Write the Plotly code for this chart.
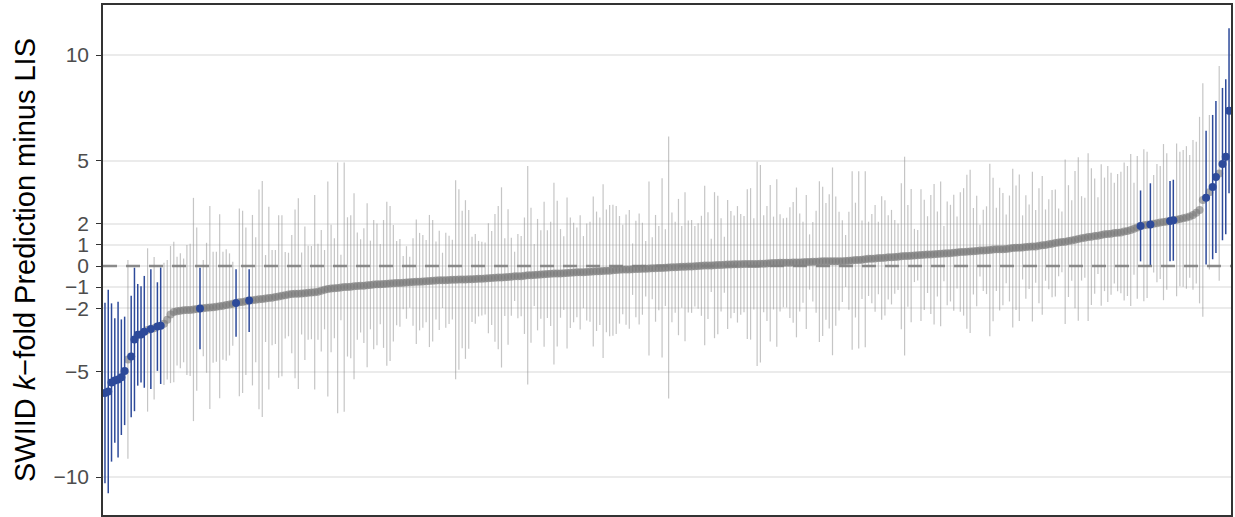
import plotly.graph_objects as go

# Sorted SWIID k-fold prediction minus LIS (one value per observation)
diff = [
    -6.02, -5.95, -5.52, -5.43, -5.38, -5.27, -4.97, -4.43, -4.29, -3.48,
    -3.26, -3.24, -3.12, -3.03, -2.99, -2.95, -2.87, -2.83, -2.74, -2.55,
    -2.30, -2.18, -2.14, -2.12, -2.10, -2.09, -2.08, -2.06, -2.04, -2.01,
    -2.00, -1.98, -1.97, -1.95, -1.93, -1.91, -1.88, -1.85, -1.82, -1.79,
    -1.75, -1.72, -1.70, -1.67, -1.64, -1.62, -1.60, -1.58, -1.56, -1.54,
    -1.52, -1.50, -1.47, -1.44, -1.41, -1.38, -1.35, -1.33, -1.32, -1.31,
    -1.30, -1.29, -1.27, -1.26, -1.24, -1.22, -1.17, -1.12, -1.09, -1.07,
    -1.05, -1.04, -1.02, -1.00, -0.99, -0.98, -0.96, -0.95, -0.94, -0.93,
    -0.91, -0.90, -0.88, -0.87, -0.86, -0.85, -0.84, -0.83, -0.82, -0.81,
    -0.80, -0.79, -0.78, -0.77, -0.76, -0.75, -0.74, -0.73, -0.72, -0.71,
    -0.70, -0.69, -0.68, -0.68, -0.67, -0.66, -0.65, -0.65, -0.64, -0.64,
    -0.64, -0.63, -0.63, -0.61, -0.60, -0.60, -0.59, -0.58, -0.57, -0.56,
    -0.55, -0.54, -0.53, -0.52, -0.51, -0.49, -0.48, -0.48, -0.46, -0.44,
    -0.44, -0.43, -0.41, -0.40, -0.39, -0.38, -0.37, -0.36, -0.36, -0.35,
    -0.34, -0.33, -0.32, -0.31, -0.30, -0.30, -0.29, -0.28, -0.27, -0.26,
    -0.25, -0.25, -0.24, -0.23, -0.22, -0.20, -0.19, -0.18, -0.17, -0.17,
    -0.16, -0.15, -0.14, -0.14, -0.13, -0.13, -0.12, -0.11, -0.11, -0.10,
    -0.09, -0.08, -0.07, -0.06, -0.06, -0.05, -0.04, -0.03, -0.02, -0.02,
    -0.01, 0.00, 0.01, 0.02, 0.02, 0.03, 0.04, 0.05, 0.05, 0.06,
    0.07, 0.07, 0.08, 0.08, 0.08, 0.09, 0.09, 0.10, 0.10, 0.10,
    0.11, 0.11, 0.12, 0.13, 0.14, 0.14, 0.15, 0.15, 0.16, 0.16,
    0.17, 0.17, 0.17, 0.18, 0.19, 0.19, 0.20, 0.20, 0.21, 0.22,
    0.22, 0.22, 0.22, 0.23, 0.23, 0.23, 0.24, 0.25, 0.26, 0.28,
    0.29, 0.30, 0.32, 0.34, 0.35, 0.36, 0.38, 0.38, 0.39, 0.41,
    0.42, 0.43, 0.44, 0.46, 0.47, 0.48, 0.49, 0.50, 0.51, 0.52,
    0.53, 0.54, 0.55, 0.56, 0.57, 0.58, 0.59, 0.60, 0.61, 0.63,
    0.64, 0.66, 0.67, 0.68, 0.69, 0.70, 0.71, 0.73, 0.74, 0.75,
    0.76, 0.78, 0.79, 0.80, 0.80, 0.81, 0.83, 0.85, 0.86, 0.87,
    0.88, 0.90, 0.91, 0.92, 0.93, 0.96, 0.98, 0.99, 1.03, 1.06,
    1.09, 1.12, 1.14, 1.15, 1.18, 1.21, 1.25, 1.28, 1.31, 1.34,
    1.37, 1.39, 1.42, 1.44, 1.47, 1.50, 1.52, 1.53, 1.56, 1.58,
    1.59, 1.63, 1.66, 1.71, 1.77, 1.83, 1.90, 1.93, 1.95, 1.97,
    2.00, 2.03, 2.06, 2.08, 2.11, 2.13, 2.17, 2.19, 2.23, 2.26,
    2.30, 2.35, 2.42, 2.53, 2.65, 3.13, 3.24, 3.50, 3.74, 4.22,
    4.39, 4.83, 5.18, 7.36,
]

# Half-width of each 95% interval
half = [
    4.28, 4.82, 3.75, 2.95, 3.69, 2.74, 2.57, 4.71, 2.88, 3.40,
    2.41, 2.28, 2.65, 3.87, 2.84, 3.38, 2.10, 2.76, 2.90, 2.83,
    3.25, 3.33, 2.58, 2.72, 2.46, 3.08, 3.13, 5.29, 3.87, 1.93,
    2.28, 3.08, 4.81, 2.63, 2.61, 4.36, 2.56, 2.64, 2.42, 1.99,
    1.60, 4.45, 4.32, 3.50, 1.49, 4.04, 2.96, 5.21, 5.59, 2.06,
    4.33, 2.26, 2.23, 3.85, 3.82, 2.05, 1.98, 2.80, 4.00, 4.52,
    1.94, 3.16, 2.23, 2.21, 4.61, 2.27, 2.88, 1.88, 5.09, 3.02,
    2.37, 5.94, 1.55, 5.91, 3.30, 3.39, 4.41, 2.54, 2.21, 2.72,
    3.89, 2.10, 3.06, 2.89, 1.90, 3.03, 3.89, 3.67, 2.76, 2.00,
    2.08, 1.26, 1.72, 1.21, 2.07, 2.95, 2.31, 2.20, 1.95, 3.13,
    2.88, 1.85, 2.35, 1.31, 2.25, 2.09, 1.89, 4.72, 4.28, 3.26,
    3.76, 3.29, 2.02, 2.13, 1.79, 1.75, 1.71, 2.61, 2.23, 3.03,
    3.40, 4.27, 1.84, 3.21, 1.85, 1.17, 2.00, 1.90, 2.76, 5.18,
    3.20, 1.47, 2.64, 2.10, 3.44, 2.08, 2.47, 4.31, 3.45, 2.10,
    1.75, 3.58, 2.62, 2.36, 2.13, 2.71, 1.71, 2.30, 2.37, 3.55,
    2.83, 2.55, 4.12, 2.91, 3.11, 3.10, 3.03, 2.55, 2.12, 2.61,
    2.81, 1.22, 2.29, 2.63, 2.18, 1.31, 4.12, 1.47, 2.53, 2.00,
    4.25, 1.82, 6.21, 2.60, 2.16, 3.23, 1.94, 3.53, 2.18, 2.20,
    1.91, 2.03, 2.37, 3.78, 2.53, 1.26, 3.46, 3.28, 2.21, 1.33,
    3.06, 2.54, 2.31, 2.76, 2.39, 2.28, 3.55, 3.59, 2.16, 4.84,
    4.68, 2.30, 2.73, 3.71, 2.20, 3.97, 2.30, 2.11, 2.13, 2.62,
    2.86, 3.55, 2.32, 1.92, 3.18, 1.31, 1.88, 2.42, 3.81, 3.54,
    2.77, 3.18, 4.45, 3.06, 2.34, 1.94, 1.23, 2.32, 4.23, 2.72,
    4.20, 1.86, 4.17, 1.76, 2.11, 2.53, 1.72, 2.93, 2.73, 2.00,
    2.24, 1.75, 1.58, 3.46, 4.71, 2.41, 3.16, 1.26, 1.20, 3.12,
    2.61, 1.82, 2.82, 3.33, 2.01, 3.43, 1.31, 2.46, 2.29, 2.75,
    1.71, 2.83, 3.02, 3.65, 3.87, 2.05, 2.62, 1.23, 1.93, 2.08,
    4.09, 3.40, 1.97, 2.91, 2.66, 1.63, 2.51, 3.76, 2.95, 3.47,
    1.52, 2.45, 2.00, 3.55, 1.72, 2.72, 3.29, 1.69, 2.13, 2.54,
    2.54, 1.61, 1.44, 3.90, 2.65, 1.91, 3.25, 3.87, 2.00, 1.90,
    3.97, 3.24, 2.73, 1.82, 3.35, 2.69, 3.22, 2.89, 2.39, 2.78,
    2.88, 3.27, 3.08, 3.60, 2.18, 3.38, 1.68, 3.60, 3.47, 1.95,
    2.31, 2.80, 2.68, 3.70, 3.23, 1.90, 1.92, 3.62, 3.19, 3.24,
    3.38, 2.91, 3.55, 3.36, 4.42, 5.53, 3.17, 3.66, 3.42, 3.60,
    5.09, 3.61, 3.67, 3.91,
]

y_ticks = [-10, -5, -2, -1, 0, 1, 2, 5, 10]
y_tick_labels = ["\u221210", "\u22125", "\u22122", "\u22121", "0", "1", "2", "5", "10"]

n = len(diff)
xs = list(range(1, n + 1))

gx, gy, ge, bx, by, be = [], [], [], [], [], []
for x, d, h in zip(xs, diff, half):
    if d + h < 0 or d - h > 0:
        bx.append(x); by.append(d); be.append(h)
    else:
        gx.append(x); gy.append(d); ge.append(h)

BLUE = "#2d4a9a"

fig = go.Figure()
fig.add_trace(go.Scatter(
    x=gx, y=gy, mode="markers",
    marker=dict(size=8, color="rgba(120,120,120,0.6)", line=dict(width=0)),
    error_y=dict(type="data", array=ge, symmetric=True, width=0,
                 thickness=1.2, color="rgba(150,150,150,0.55)"),
    showlegend=False, hoverinfo="skip",
))
fig.add_trace(go.Scatter(
    x=bx, y=by, mode="markers",
    marker=dict(size=8, color=BLUE, line=dict(width=0)),
    error_y=dict(type="data", array=be, symmetric=True, width=0,
                 thickness=1.5, color=BLUE),
    showlegend=False, hoverinfo="skip",
))

fig.add_shape(type="line", xref="paper", x0=0, x1=1, yref="y", y0=0, y1=0,
              line=dict(color="rgba(128,128,128,0.9)", width=2.4, dash="14px,9px"),
              layer="above")

fig.update_layout(
    width=1235, height=517,
    margin=dict(l=103, r=4, t=5, b=2),
    paper_bgcolor="white", plot_bgcolor="white",
    font=dict(family="Liberation Sans, Arial, sans-serif"),
)
fig.update_xaxes(
    range=[0.4, n + 0.6], showgrid=False, zeroline=False,
    showticklabels=False, ticks="",
    showline=True, mirror=True, linecolor="#333333", linewidth=1.5,
)
fig.update_yaxes(
    range=[-11.8, 12.37], tickmode="array", tickvals=y_ticks, ticktext=y_tick_labels,
    showgrid=True, gridcolor="#ebebeb", gridwidth=1.6, zeroline=False,
    ticks="outside", ticklen=5, tickcolor="#333333", tickwidth=1.2,
    ticklabelstandoff=3,
    tickfont=dict(size=21, color="#4d4d4d"),
    showline=True, mirror=True, linecolor="#333333", linewidth=1.5,
    title=dict(text="SWIID <i>k</i>\u2212fold Prediction minus LIS",
               font=dict(size=29, color="black"), standoff=9),
    automargin=False,
)

fig.write_html("out.html", config={"displayModeBar": False},
               post_script="document.body.style.margin='0';")
